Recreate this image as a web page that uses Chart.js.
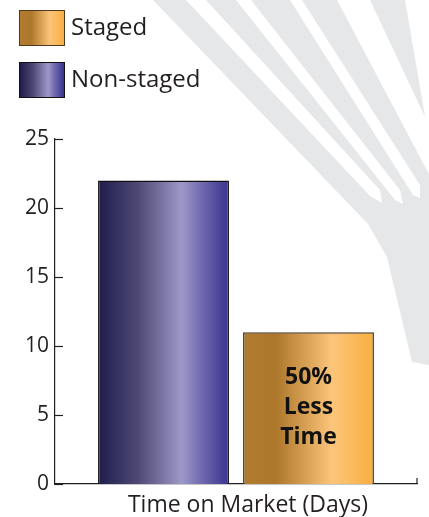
<!DOCTYPE html>
<html>
<head>
<meta charset="utf-8">
<script src="https://cdn.jsdelivr.net/npm/chart.js@4.4.1/dist/chart.umd.min.js"></script>
<style>
  body { margin: 0; background: #fff; }
  #wrap { position: relative; width: 429px; height: 517px; overflow: hidden; }
  #chart { position: absolute; left: 0; top: 0; }
  #legend { position: absolute; left: 19px; top: 10px; font-family: "Open Sans", sans-serif; font-size: 24px; color: #231f20; }
  .item { display: flex; align-items: center; height: 36px; margin-bottom: 16px; }
  .item span:last-child { position: relative; top: -3px; }
  .swatch { width: 44px; height: 34px; margin-right: 6px; box-sizing: content-box; }
</style>
</head>
<body>
<div id="wrap">
  <canvas id="chart" width="429" height="517"></canvas>
  <div id="legend"></div>
</div>
<script>
// Data
const categories = ["Time on Market (Days)"];
const seriesNames = ["Non-staged", "Staged"];
const nonStaged = [22];
const staged = [11];
const yMin = 0;
const yMax = 25;
const yStep = 5;
const note = ["50%", "Less", "Time"];

// Styles
const purpleStops = [[0, "#1f1c4d"], [0.3, "#4d4873"], [0.64, "#9d98c9"], [0.8, "#6f67ad"], [1, "#37338f"]];
const orangeStops = [[0, "#b17b31"], [0.25, "#ad772b"], [0.68, "#fcc57a"], [1, "#f9ae3f"]];
const stopsList = [purpleStops, orangeStops];
const borders = ["#111", "#4a3a22"];
const ink = "#231f20";

function cssGradient(stops) {
    return "linear-gradient(to right, " + stops.map(s => s[1] + " " + (s[0] * 100) + "%").join(", ") + ")";
}

// HTML legend (Staged listed first)
let legendEl = document.getElementById("legend");
for (let i = seriesNames.length - 1; i >= 0; i--) {
    let item = document.createElement("div");
    item.className = "item";
    let sw = document.createElement("span");
    sw.className = "swatch";
    sw.style.background = cssGradient(stopsList[i]);
    sw.style.border = "1px solid " + borders[i];
    let txt = document.createElement("span");
    txt.textContent = seriesNames[i];
    item.appendChild(sw);
    item.appendChild(txt);
    legendEl.appendChild(item);
}

function poly(ctx, pts) {
    ctx.beginPath();
    ctx.moveTo(pts[0][0], pts[0][1]);
    for (let k = 1; k < pts.length; k++) ctx.lineTo(pts[k][0], pts[k][1]);
    ctx.closePath();
    ctx.fill();
}

// grey fan in the background
const fanPlugin = {
    id: "fan",
    beforeDraw(chart) {
        const ctx = chart.ctx;
        ctx.save();
        ctx.fillStyle = "#fff";
        ctx.fillRect(0, 0, chart.width, chart.height);
        ctx.fillStyle = "#e6e7e8";
        poly(ctx, [[153, 0], [405, 0], [429, 140], [429, 365], [412, 362], [387, 257], [368, 224]]);
        ctx.fillStyle = "#fff";
        const gaps = [
            [[186, 0], [206, 0], [380, 190], [382, 203], [370, 196]],
            [[236, 0], [251, 0], [400, 190], [403, 204], [395, 200]],
            [[290, 0], [302, 0], [420, 185], [420, 198], [413, 195]],
            [[337, 0], [370, 0], [450, 170], [440, 195]]
        ];
        gaps.forEach(g => poly(ctx, g));
        ctx.restore();
    }
};

// gradient fill across each bar
const gradientPlugin = {
    id: "barGradient",
    beforeDatasetsDraw(chart) {
        const ctx = chart.ctx;
        chart.data.datasets.forEach((ds, i) => {
            chart.getDatasetMeta(i).data.forEach(el => {
                const p = el.getProps(["x", "width"], true);
                const g = ctx.createLinearGradient(p.x - p.width / 2, 0, p.x + p.width / 2, 0);
                stopsList[i].forEach(s => g.addColorStop(s[0], s[1]));
                el.options.backgroundColor = g;
            });
        });
    }
};

// inward ticks, axis end tick and the note in the staged bar
const extrasPlugin = {
    id: "extras",
    afterDraw(chart) {
        const ctx = chart.ctx;
        const y = chart.scales.y;
        const area = chart.chartArea;
        ctx.save();
        ctx.strokeStyle = ink;
        ctx.lineWidth = 1.2;
        y.ticks.forEach(t => {
            const py = Math.round(y.getPixelForValue(t.value)) + 0.5;
            ctx.beginPath();
            ctx.moveTo(area.left, py);
            ctx.lineTo(area.left + 8, py);
            ctx.stroke();
        });
        ctx.beginPath();
        ctx.moveTo(area.right, area.bottom);
        ctx.lineTo(area.right, area.bottom - 6);
        ctx.stroke();

        const bar = chart.getDatasetMeta(1).data[0];
        const cx = bar.x;
        const cy = (bar.y + bar.base) / 2 - 1;
        ctx.fillStyle = "#111";
        ctx.font = "bold 23px 'Open Sans'";
        ctx.textAlign = "center";
        ctx.textBaseline = "middle";
        note.forEach((line, k) => {
            ctx.fillText(line, cx, cy + (k - 1) * 30);
        });
        ctx.restore();
    }
};

let chart = new Chart(document.getElementById("chart"), {
    type: "bar",
    data: {
        labels: categories,
        datasets: [
            { label: seriesNames[0], data: nonStaged, borderColor: borders[0], borderWidth: 1.5 },
            { label: seriesNames[1], data: staged, borderColor: borders[1], borderWidth: 1.5 }
        ]
    },
    options: {
        responsive: false,
        animation: false,
        categoryPercentage: 0.801,
        barPercentage: 0.903,
        layout: { padding: { top: 139, right: 12, left: 0, bottom: 0 } },
        plugins: {
            legend: { display: false },
            tooltip: { enabled: false }
        },
        scales: {
            x: {
                grid: { display: false, drawTicks: false },
                border: { color: ink, width: 1.2 },
                ticks: {
                    color: ink,
                    padding: 8,
                    labelOffset: 12,
                    font: { family: "Open Sans", size: 23 }
                },
                afterFit(scale) { scale.height = 33; }
            },
            y: {
                min: yMin,
                max: yMax,
                grid: { display: false, drawTicks: false },
                border: { color: ink, width: 1.2 },
                ticks: {
                    stepSize: yStep,
                    color: ink,
                    padding: 6,
                    font: { family: "Open Sans", size: 21 }
                },
                afterFit(scale) { scale.width = 55; }
            }
        }
    },
    plugins: [fanPlugin, gradientPlugin, extrasPlugin]
});
</script>
</body>
</html>
